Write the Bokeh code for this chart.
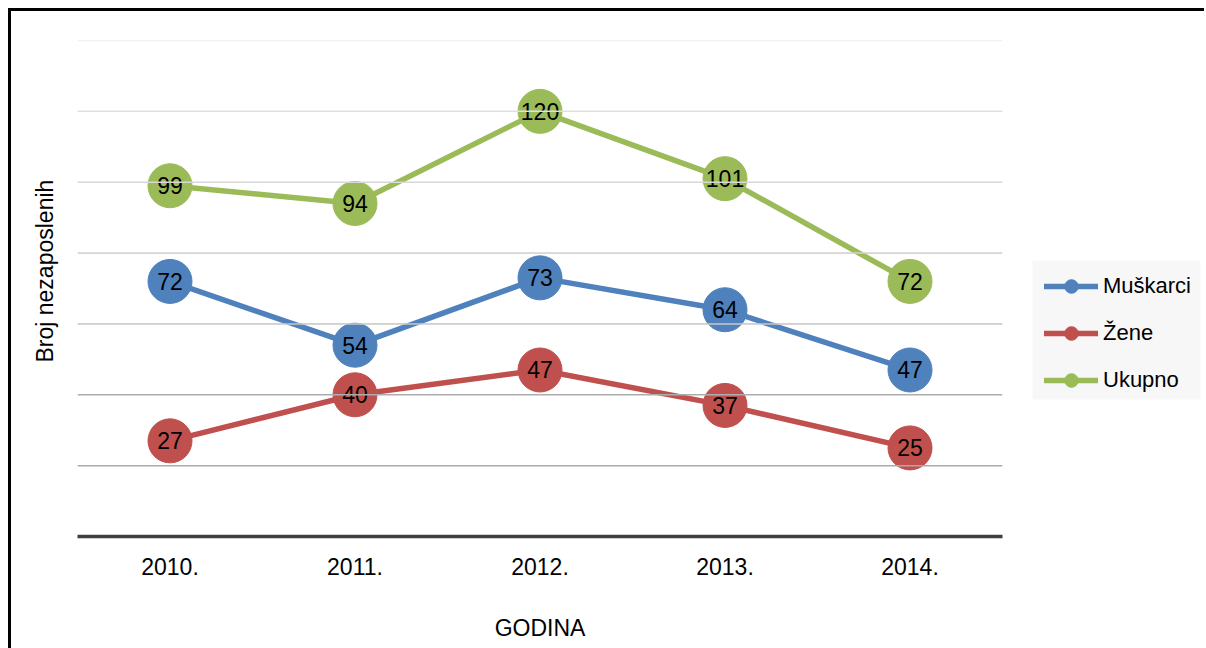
from bokeh.plotting import figure
from bokeh.layouts import row
from bokeh.models import (FactorRange, Range1d, Span, Legend, LegendItem, Title,
                          BoxAnnotation)
from bokeh.core.properties import value
from bokeh.embed import file_html
from bokeh.resources import INLINE

# ---- data ----
years = ["2010.", "2011.", "2012.", "2013.", "2014."]
muskarci = [72, 54, 73, 64, 47]
zene = [27, 40, 47, 37, 25]
ukupno = [99, 94, 120, 101, 72]
series_names = ["Muškarci", "Žene", "Ukupno"]
series_colors = ["#4F81BD", "#C0504D", "#9BBB59"]
grid_ticks = [20, 40, 60, 80, 100, 120, 140]
grid_colors = ["#a9a9a9", "#adadad", "#c8c8c8", "#d2d2d2", "#d8d8d8", "#e0e0e0", "#e6e6e6"]

FONT = "Liberation Sans"

# ---- main chart ----
p = figure(
    width=999, height=637,
    x_range=FactorRange(*years, range_padding=0),
    y_range=Range1d(0, 140),
    y_axis_location=None,
    output_backend="svg", toolbar_location=None,
    min_border_left=66, min_border_right=8,
    min_border_top=29, min_border_bottom=112,
)
p.outline_line_color = None
p.background_fill_color = "white"
p.border_fill_color = "white"
p.xgrid.visible = False

for t, c in zip(grid_ticks, grid_colors):
    p.add_layout(Span(location=t, dimension="width", line_color=c, line_width=1.5))

ax = p.xaxis[0]
ax.axis_line_color = "#404040"
ax.axis_line_width = 3.5
ax.major_tick_line_color = None
ax.minor_tick_line_color = None
ax.major_tick_in = 0
ax.major_tick_out = 0
ax.major_label_standoff = 21
ax.major_label_text_font = FONT
ax.major_label_text_font_size = "23px"
ax.major_label_text_color = "black"
ax.axis_label = "GODINA"
ax.axis_label_standoff = 37
ax.axis_label_text_font = FONT
ax.axis_label_text_font_size = "23px"
ax.axis_label_text_font_style = "normal"
ax.axis_label_text_color = "black"

for name, vals, col in zip(series_names, [muskarci, zene, ukupno], series_colors):
    p.line(years, vals, line_color=col, line_width=5.5, line_cap="round", line_join="round")
    p.scatter(years, vals, size=44, fill_color=col, line_color=col)
    p.text(years, vals, text=[str(v) for v in vals], text_align="center",
           text_baseline="middle", text_font=value(FONT),
           text_font_size="23px", text_color="black")

ytitle = Title(text="Broj nezaposlenih", align="left", offset=174, standoff=38,
               vertical_align="middle",
               text_font=FONT, text_font_size="23px", text_font_style="normal",
               text_color="black")
p.add_layout(ytitle, "left")

# ---- legend panel ----
q = figure(
    width=194, height=637,
    x_range=Range1d(0, 1), y_range=Range1d(0, 1),
    x_axis_location=None, y_axis_location=None,
    output_backend="svg", toolbar_location=None, min_border=0,
)
q.outline_line_color = None
q.background_fill_color = "white"
q.border_fill_color = "white"
q.grid.visible = False

q.add_layout(BoxAnnotation(left=22, right=190, bottom=137, top=276,
                           left_units="screen", right_units="screen",
                           bottom_units="screen", top_units="screen",
                           fill_color="#f7f7f7", fill_alpha=1.0, line_color=None))

nan = float("nan")
items = []
for name, col in zip(series_names, series_colors):
    # invisible proxies that only give the legend its glyphs
    lr = q.line(x=[nan, nan], y=[nan, nan], line_color=col, line_width=5.5, line_cap="round")
    sr = q.scatter(x=[nan], y=[nan], size=44, fill_color=col, line_color=col)
    items.append(LegendItem(label=name, renderers=[lr, sr]))

legend = Legend(items=items, location=(34, 139),
                glyph_width=54, glyph_height=34, label_height=34,
                spacing=13, padding=0, margin=0, label_standoff=5,
                label_text_font=FONT, label_text_font_size="22px",
                label_text_color="black",
                background_fill_alpha=0.0, border_line_color=None)
q.add_layout(legend, "center")

layout = row(p, q)
layout.styles = {"border-left": "3px solid black", "border-top": "3px solid black",
                 "margin-left": "8px", "margin-top": "8px"}

open("out.html", "w").write(file_html(layout, INLINE))
